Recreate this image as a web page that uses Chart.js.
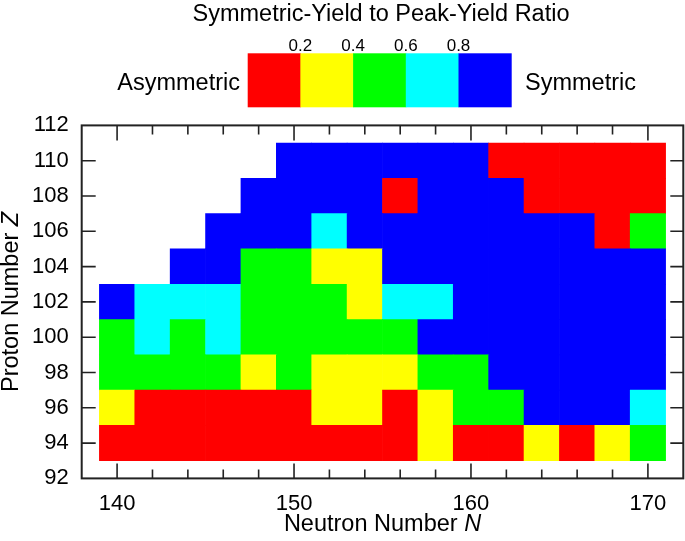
<!DOCTYPE html>
<html>
<head>
<meta charset="utf-8">
<script src="https://cdn.jsdelivr.net/npm/chart.js@4.4.0/dist/chart.umd.min.js"></script>
<style>
  body { margin: 0; background: #fff; }
</style>
</head>
<body>
<canvas id="chartRasio" width="685" height="541"></canvas>
<script>
// sumbu N dan Z (pusat sel)
const neutronN = [140, 142, 144, 146, 148, 150, 152, 154, 156, 158, 160, 162, 164, 166, 168, 170];
const protonZ = [94, 96, 98, 100, 102, 104, 106, 108, 110];

// rasio symmetric-yield / peak-yield per baris Z (null = tidak ada data)
const _ = null;
const ratioZ94  = [0.1, 0.1, 0.1, 0.1, 0.1, 0.1, 0.1, 0.1, 0.1, 0.3, 0.1, 0.1, 0.3, 0.1, 0.3, 0.5];
const ratioZ96  = [0.3, 0.1, 0.1, 0.1, 0.1, 0.1, 0.3, 0.3, 0.1, 0.3, 0.5, 0.5, 0.9, 0.9, 0.9, 0.7];
const ratioZ98  = [0.5, 0.5, 0.5, 0.5, 0.3, 0.5, 0.3, 0.3, 0.3, 0.5, 0.5, 0.9, 0.9, 0.9, 0.9, 0.9];
const ratioZ100 = [0.5, 0.7, 0.5, 0.7, 0.5, 0.5, 0.5, 0.5, 0.5, 0.9, 0.9, 0.9, 0.9, 0.9, 0.9, 0.9];
const ratioZ102 = [0.9, 0.7, 0.7, 0.7, 0.5, 0.5, 0.5, 0.3, 0.7, 0.7, 0.9, 0.9, 0.9, 0.9, 0.9, 0.9];
const ratioZ104 = [_, _, 0.9, 0.9, 0.5, 0.5, 0.3, 0.3, 0.9, 0.9, 0.9, 0.9, 0.9, 0.9, 0.9, 0.9];
const ratioZ106 = [_, _, _, 0.9, 0.9, 0.9, 0.7, 0.9, 0.9, 0.9, 0.9, 0.9, 0.9, 0.9, 0.1, 0.5];
const ratioZ108 = [_, _, _, _, 0.9, 0.9, 0.9, 0.9, 0.1, 0.9, 0.9, 0.9, 0.1, 0.1, 0.1, 0.1];
const ratioZ110 = [_, _, _, _, _, 0.9, 0.9, 0.9, 0.9, 0.9, 0.9, 0.1, 0.1, 0.1, 0.1, 0.1];
const ratioRows = [ratioZ94, ratioZ96, ratioZ98, ratioZ100, ratioZ102, ratioZ104, ratioZ106, ratioZ108, ratioZ110];

// skala warna
const binEdges = [0.2, 0.4, 0.6, 0.8];
const binColors = ['#ff0000', '#ffff00', '#00ff00', '#00ffff', '#0000ff'];

const fontFam = '"Liberation Sans", Arial, Helvetica, sans-serif';

function warnaRasio(v) {
    let i = 0;
    while (i < binEdges.length && v >= binEdges[i]) i++;
    return binColors[i];
}

// satu dataset bar mengambang per baris Z
const datasets = protonZ.map((z, r) => {
    const pts = [];
    const cols = [];
    ratioRows[r].forEach((v, i) => {
        if (v === null) return;
        pts.push({ x: neutronN[i], y: [z - 1, z + 1] });
        cols.push(warnaRasio(v));
    });
    return {
        label: 'Z = ' + z,
        data: pts,
        backgroundColor: cols,
        borderWidth: 0,
        grouped: false,
        barPercentage: 1,
        categoryPercentage: 1
    };
});

// bingkai + tick ke dalam di keempat sisi
const bingkaiPlugin = {
    id: 'bingkai',
    afterDatasetsDraw(chart) {
        const { ctx, chartArea: a, scales: { x, y } } = chart;
        ctx.save();
        ctx.strokeStyle = '#222';
        ctx.lineWidth = 1.6;
        ctx.beginPath();
        x.ticks.forEach(t => {
            if (t.value <= x.min || t.value >= x.max) return;
            const px = x.getPixelForValue(t.value);
            const len = t.value % 10 === 0 ? 15 : 9;
            ctx.moveTo(px, a.bottom); ctx.lineTo(px, a.bottom - len);
            ctx.moveTo(px, a.top); ctx.lineTo(px, a.top + len);
        });
        y.ticks.forEach(t => {
            if (t.value <= y.min || t.value >= y.max) return;
            const py = y.getPixelForValue(t.value);
            ctx.moveTo(a.left, py); ctx.lineTo(a.left + 14, py);
            ctx.moveTo(a.right, py); ctx.lineTo(a.right - 13, py);
        });
        ctx.stroke();
        ctx.lineWidth = 2;
        ctx.strokeRect(a.left, a.top, a.right - a.left, a.bottom - a.top);
        ctx.restore();
    }
};

// skala warna di atas + judul sumbu
const skalaPlugin = {
    id: 'skala',
    afterDraw(chart) {
        const ctx = chart.ctx;
        const x0 = 247.7, w = 52.7, y0 = 53.3, h = 54;
        ctx.save();
        binColors.forEach((c, i) => {
            ctx.fillStyle = c;
            ctx.fillRect(x0 + i * w, y0, w + 0.5, h);
        });
        ctx.fillStyle = '#000';
        ctx.textBaseline = 'alphabetic';
        ctx.font = `17px ${fontFam}`;
        ctx.textAlign = 'center';
        binEdges.forEach((b, i) => ctx.fillText(b.toFixed(1), x0 + (i + 1) * w, 50.7));

        ctx.font = `23.5px ${fontFam}`;
        ctx.textAlign = 'right';
        ctx.fillText('Asymmetric', 240, 90);
        ctx.textAlign = 'left';
        ctx.fillText('Symmetric', 525, 90);
        ctx.textAlign = 'center';
        ctx.font = `23.5px ${fontFam}`;
        ctx.fillText('Symmetric-Yield to Peak-Yield Ratio', 381, 21);

        // judul sumbu x: "Neutron Number N"
        const a = chart.chartArea;
        ctx.textAlign = 'left';
        const fN = `23.5px ${fontFam}`, fI = `italic 23.5px ${fontFam}`;
        ctx.font = fN;
        const wx1 = ctx.measureText('Neutron Number ').width;
        ctx.font = fI;
        const wx2 = ctx.measureText('N').width;
        let sx = (a.left + a.right) / 2 - (wx1 + wx2) / 2;
        ctx.font = fN; ctx.fillText('Neutron Number ', sx, 531);
        ctx.font = fI; ctx.fillText('N', sx + wx1, 531);

        // judul sumbu y: "Proton Number Z"
        ctx.translate(18.3, (a.top + a.bottom) / 2);
        ctx.rotate(-Math.PI / 2);
        ctx.font = fN;
        const wy1 = ctx.measureText('Proton Number ').width;
        ctx.font = fI;
        const wy2 = ctx.measureText('Z').width;
        sx = -(wy1 + wy2) / 2;
        ctx.font = fN; ctx.fillText('Proton Number ', sx, 0);
        ctx.font = fI; ctx.fillText('Z', sx + wy1, 0);
        ctx.restore();
    }
};

const ctx = document.getElementById('chartRasio').getContext('2d');
const chart = new Chart(ctx, {
    type: 'bar',
    data: { datasets: datasets },
    options: {
        responsive: false,
        animation: false,
        layout: { padding: { top: 125.4, right: 1.7, left: 0, bottom: 0 } },
        plugins: {
            legend: { display: false },
            tooltip: { enabled: false }
        },
        scales: {
            x: {
                type: 'linear',
                min: 138,
                max: 172,
                offset: false,
                grid: { display: false, drawTicks: false },
                border: { display: false },
                ticks: {
                    stepSize: 2,
                    autoSkip: false,
                    maxRotation: 0,
                    padding: 12,
                    color: '#000',
                    font: { size: 22, family: fontFam },
                    callback: v => (v % 10 === 0 ? v : '')
                },
                afterFit: s => {
                    s.height = 62.6;
                    s.paddingLeft = 0;
                    s.paddingRight = 0;
                }
            },
            y: {
                type: 'linear',
                min: 92,
                max: 112,
                grid: { display: false, drawTicks: false },
                border: { display: false },
                ticks: {
                    stepSize: 2,
                    autoSkip: false,
                    padding: 13,
                    color: '#000',
                    font: { size: 22, family: fontFam }
                },
                afterFit: s => {
                    s.width = 81.7;
                    s.paddingTop = 0;
                    s.paddingBottom = 0;
                }
            }
        }
    },
    plugins: [bingkaiPlugin, skalaPlugin]
});
</script>
</body>
</html>
